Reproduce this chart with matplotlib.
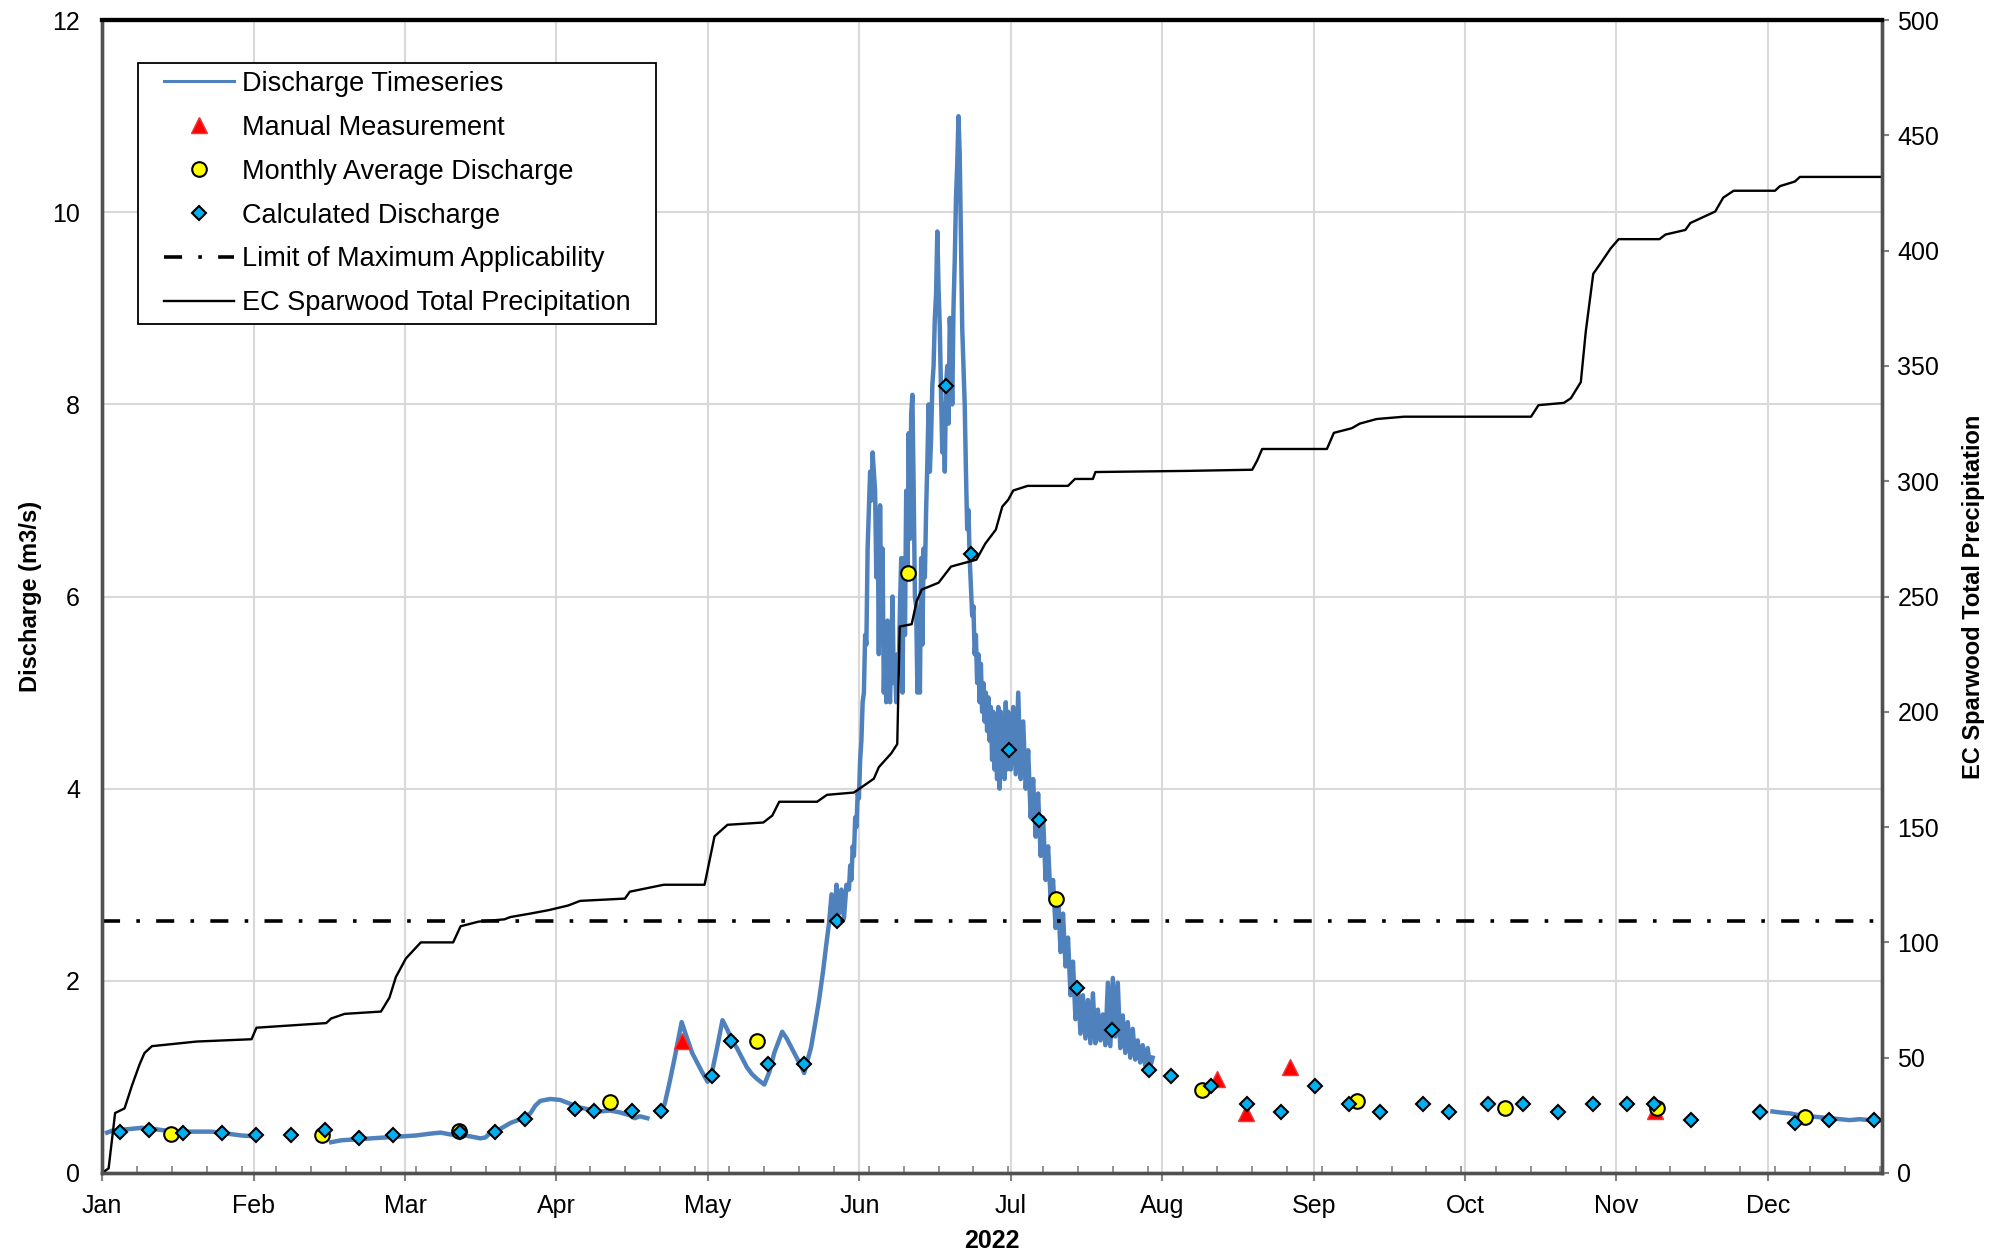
import numpy as np
import matplotlib.pyplot as plt
from matplotlib.ticker import MultipleLocator
from matplotlib.patches import Rectangle

plt.rcParams['font.family'] = ['Liberation Sans', 'DejaVu Sans']

# x values are days after 1 Jan 2022
month_labels = ["Jan", "Feb", "Mar", "Apr", "May", "Jun",
                "Jul", "Aug", "Sep", "Oct", "Nov", "Dec"]

# discharge timeseries (m3/s), logger record in pieces
q_days_jan = [1, 2, 4, 6, 8, 10, 13, 16, 19, 22, 25, 28, 31]
q_vals_jan = [0.42, 0.44, 0.45, 0.46, 0.47, 0.46, 0.44, 0.43, 0.43, 0.43, 0.41, 0.39, 0.38]

q_days_spring = [46, 48, 51, 54, 57, 60, 63, 66, 68, 70, 72, 74, 76, 77, 78, 80, 82, 84,
                 86, 87, 88, 90, 92, 94, 96, 98, 100, 102, 104, 106, 107, 108, 109.5]
q_vals_spring = [0.32, 0.34, 0.35, 0.36, 0.37, 0.38, 0.39, 0.41, 0.42, 0.40, 0.40, 0.38, 0.36,
                 0.37, 0.42, 0.46, 0.52, 0.56, 0.62, 0.70, 0.75, 0.77, 0.76, 0.72, 0.68, 0.66,
                 0.64, 0.65, 0.63, 0.60, 0.57, 0.59, 0.57]

q_days_may = [112.0, 113.0, 114.0, 115.0, 116.4, 117.5, 118.5, 119.5, 120.5, 121.6, 122.5,
              123.5, 124.6, 125.5, 126.5, 127.5, 128.5, 129.5, 130.5, 131.5, 133.0, 134.0,
              135.0, 136.6, 137.5, 138.5, 139.5, 140.5, 141.0, 142.4, 143.2, 144.0, 144.8,
              145.5, 146.0, 146.5, 147.0, 147.5, 148.0, 148.5, 149.0, 149.5]
q_vals_may = [0.62, 0.72, 0.95, 1.2, 1.57, 1.4, 1.25, 1.15, 1.05, 0.95, 1.05,
              1.3, 1.59, 1.5, 1.38, 1.3, 1.2, 1.1, 1.03, 0.98, 0.92, 1.05,
              1.25, 1.47, 1.4, 1.3, 1.2, 1.1, 1.04, 1.31, 1.55, 1.8, 2.1,
              2.4, 2.6, 2.9, 2.6, 3.0, 2.7, 2.95, 2.65, 3.0]

# freshet peak, every quarter day from day 150
q_fresh_start = 150.0
q_fresh_vals = [2.95, 3.2, 3.05, 3.4, 3.3, 3.7, 3.6, 3.95, 3.9, 4.3,
                4.5, 4.9, 5.0, 5.6, 5.5, 6.5, 6.9, 7.3, 7.0, 7.5,
                7.3, 7.1, 6.2, 6.9, 5.4, 6.95, 5.8, 6.5, 5.0, 5.6,
                4.9, 5.75, 5.2, 4.9, 5.4, 6.0, 5.1, 5.3, 4.9, 5.4,
                5.2, 5.9, 6.4, 5.0, 6.4, 5.6, 7.1, 6.2, 7.7, 6.6,
                7.9, 8.1, 7.1, 6.0, 5.9, 5.0, 5.6, 5.0, 6.4, 5.5,
                6.5, 6.2, 6.9, 7.4, 8.0, 7.3, 7.65, 8.2, 8.4, 8.9,
                9.15, 9.8, 9.2, 8.8, 8.1, 7.5, 8.0, 7.3, 8.2, 8.4,
                7.8, 8.9, 8.6, 8.0, 9.0, 9.5, 10.15, 10.5, 11.0, 10.6,
                9.7, 8.8, 8.4, 8.0, 7.3, 6.7, 6.9, 6.4, 6.1, 5.8,
                5.9, 5.4, 5.6, 5.1, 5.4, 4.9, 5.3, 4.8, 5.1, 4.7,
                5.0, 4.6, 4.95, 4.5, 4.85, 4.3, 4.8, 4.2, 4.75, 4.1,
                4.85, 4.0, 4.8, 4.2, 4.7, 4.1, 4.9, 4.2, 4.8]

# recession, every half day from day 182.5
q_recess_start = 182.5
q_recess_vals = [4.2, 4.85, 4.15, 5.0, 4.1, 4.7, 4.0, 4.4, 3.7, 4.1,
                 3.5, 3.95, 3.3, 3.7, 3.05, 3.4, 2.85, 3.05, 2.55, 2.9,
                 2.3, 2.7, 2.15, 2.45, 1.85, 2.2, 1.6, 1.95, 1.45, 1.85,
                 1.4, 1.8, 1.35, 1.87, 1.35, 1.7, 1.38, 1.65, 1.33, 1.98,
                 1.32, 2.03, 1.42, 1.98, 1.3, 1.64, 1.25, 1.57, 1.2, 1.5,
                 1.18, 1.38, 1.15, 1.33, 1.12, 1.3, 1.1, 1.2]

q_days_dec = [335.5, 337, 339, 341, 342, 343, 345, 347, 349, 351, 353, 355, 357.5]
q_vals_dec = [0.64, 0.63, 0.62, 0.60, 0.64, 0.59, 0.58, 0.57, 0.56, 0.55, 0.56, 0.55, 0.55]

manual_days = [116.4, 224.0, 229.8, 238.5, 312.0]
manual_vals = [1.37, 0.98, 0.62, 1.10, 0.64]

monthly_days = [13.8, 44.1, 71.6, 102.0, 131.6, 161.9, 191.5, 221.0, 252.0, 281.8, 312.3, 342.0]
monthly_vals = [0.41, 0.40, 0.44, 0.74, 1.37, 6.24, 2.85, 0.86, 0.75, 0.68, 0.68, 0.58]

calc_days = [3.6, 9.5, 16.2, 24.1, 31.0, 38.0, 44.7, 51.6, 58.5, 71.9, 79.0, 84.9, 95.0,
             98.7, 106.4, 112.3, 122.4, 126.3, 133.7, 140.9, 147.6, 169.4, 174.5, 182.2,
             188.1, 195.8, 202.8, 210.3, 214.7, 222.8, 229.9, 236.7, 243.6, 250.5, 256.7,
             265.4, 270.6, 278.4, 285.3, 292.5, 299.4, 306.2, 311.8, 319.1, 333.0, 340.0,
             346.9, 355.8]
calc_vals = [0.43, 0.45, 0.42, 0.42, 0.39, 0.40, 0.45, 0.36, 0.39, 0.43, 0.43, 0.56, 0.67,
             0.64, 0.64, 0.64, 1.01, 1.37, 1.13, 1.13, 2.62, 8.19, 6.44, 4.40,
             3.67, 1.93, 1.49, 1.07, 1.01, 0.91, 0.72, 0.63, 0.91, 0.72, 0.63,
             0.72, 0.63, 0.72, 0.72, 0.63, 0.72, 0.72, 0.72, 0.55, 0.63, 0.52,
             0.55, 0.55]

limit_q = 2.62

# EC Sparwood cumulative precipitation (mm), 10 per row
precip_days = [0, 1.3, 2.6, 4.5, 6.0, 7.5, 8.5, 10, 19, 30,
               31, 45, 46, 48.7, 56, 57.7, 59, 61, 64, 70.5,
               72, 75.6, 80.8, 82, 86, 89.7, 93.6, 96, 105, 106,
               112.8, 121, 123, 125.6, 132.8, 134.6, 136, 143.6, 145.6, 151,
               155, 156, 158.5, 159.7, 160.2, 162.6, 163.6, 164.6, 168, 170.5,
               175.6, 177.4, 179.5, 180.8, 182, 183, 185.9, 194, 195.4, 199,
               199.5, 218, 231, 232, 233, 246, 247.4, 251, 252.6, 256,
               261.5, 287, 288.5, 293.6, 295, 297, 298, 299.5, 300.8, 303,
               304.6, 312.8, 314, 318, 319, 322, 324, 325.6, 327.7, 336,
               337, 340, 341, 357.5]
precip_vals = [0, 2, 26, 28, 38, 47, 52, 55, 57, 58,
               63, 65, 67, 69, 70, 76, 85, 93, 100, 100,
               107, 109, 110, 111, 112.5, 114, 116, 118, 119, 122,
               125, 125, 146, 151, 152, 155, 161, 161, 164, 165,
               171, 176, 182, 186, 237, 238, 248, 253, 256, 263,
               266, 273, 279, 289, 292, 296, 298, 298, 301, 301,
               304, 304.5, 305, 309, 314, 314, 321, 323, 325, 327,
               328, 328, 333, 334, 336, 343, 365, 390, 394, 401,
               405, 405, 407, 409, 412, 415, 417, 423, 426, 426,
               428, 430, 432, 432]

# join the logger pieces, nan marks the gaps
fresh_days = q_fresh_start + 0.25 * np.arange(len(q_fresh_vals))
recess_days = q_recess_start + 0.5 * np.arange(len(q_recess_vals))
q_days = np.concatenate([q_days_jan, [np.nan], q_days_spring, [np.nan], q_days_may,
                         fresh_days, recess_days, [np.nan], q_days_dec])
q_vals = np.concatenate([q_vals_jan, [np.nan], q_vals_spring, [np.nan], q_vals_may,
                         q_fresh_vals, q_recess_vals, [np.nan], q_vals_dec])

fig = plt.figure(figsize=(20.03, 12.58), dpi=100)
ax1 = fig.add_axes([0.051, 0.0676, 0.8886, 0.9164])
ax2 = ax1.twinx()

l1, = ax1.plot(q_days, q_vals, color='#4F81BD', lw=3.2, zorder=2,
               label='Discharge Timeseries')
l2, = ax1.plot(manual_days, manual_vals, ls='none', marker='^', ms=11, mfc='#FF0000',
               mec='#E83A3A', mew=1, zorder=3, label='Manual Measurement')
l3, = ax1.plot(monthly_days, monthly_vals, ls='none', marker='o', ms=10.5, mfc='#FFFF00',
               mec='black', mew=1.5, zorder=4, label='Monthly Average Discharge')
l4, = ax1.plot(calc_days, calc_vals, ls='none', marker='D', ms=7.5, mfc='#00B0F0',
               mec='black', mew=1.5, zorder=5, label='Calculated Discharge')
l5 = ax1.axhline(limit_q, color='black', lw=2.6, dashes=(5, 4.5, 1, 4.5), zorder=6,
                 label='Limit of Maximum Applicability')
l6, = ax2.plot(precip_days, precip_vals, color='black', lw=1.7,
               label='EC Sparwood Total Precipitation')

ax1.set_xlim(0, 357.5)
ax1.set_ylim(0, 12)
ax2.set_ylim(0, 500)

ax1.set_xticks(np.arange(12) * 365 / 12)
ax1.set_xticklabels(month_labels)
ax1.xaxis.set_minor_locator(MultipleLocator(7))
ax1.set_yticks(np.arange(0, 13, 2))
ax2.set_yticks(np.arange(0, 501, 50))

ax1.grid(True, which='major', color='#D9D9D9', lw=1.5)
ax1.set_axisbelow(True)

ax1.tick_params(axis='y', length=0, pad=16, labelsize=18)
ax1.tick_params(axis='x', which='major', direction='out', length=6, width=1.5,
                color='#808080', pad=9, labelsize=18)
ax1.tick_params(axis='x', which='minor', direction='in', length=5, width=1.2,
                color='#808080')
ax2.tick_params(axis='y', direction='out', length=5, width=1.5, color='#808080',
                pad=6, labelsize=18)

for ax in (ax1, ax2):
    for side in ['left', 'bottom', 'right']:
        ax.spines[side].set_linewidth(2.4)
        ax.spines[side].set_color('#505050')
    ax.spines['top'].set_linewidth(3)
    ax.spines['top'].set_color('black')

ax1.set_xlabel('2022', fontsize=18, fontweight='bold', labelpad=8)
ax1.set_ylabel('Discharge (m3/s)', fontsize=17, fontweight='bold', labelpad=7)
ax2.set_ylabel('EC Sparwood Total Precipitation', fontsize=17, fontweight='bold', labelpad=16)

handles = [l1, l2, l3, l4, l5, l6]
leg = ax2.legend(handles, [h.get_label() for h in handles],
                 loc='upper left', bbox_to_anchor=(0.030, 0.963), borderaxespad=0,
                 frameon=False, fontsize=19.5, handlelength=2.6, handletextpad=0.28,
                 labelspacing=0.66, borderpad=0.3, numpoints=1)
leg.set_zorder(10)
leg.get_lines()[0].set_linewidth(2.2)

# legend box: wider side margins than the legend's own padding
fig.canvas.draw()
bb = leg.get_window_extent()
side = 18
inv = ax2.transAxes.inverted()
(x0, y0), (x1, y1) = inv.transform([(bb.x0 - side, bb.y0), (bb.x1 + side, bb.y1)])
ax2.add_patch(Rectangle((x0, y0), x1 - x0, y1 - y0, transform=ax2.transAxes,
                        facecolor='white', edgecolor='black', lw=1.3, zorder=9,
                        clip_on=False))

plt.savefig('out.png', dpi=100)
